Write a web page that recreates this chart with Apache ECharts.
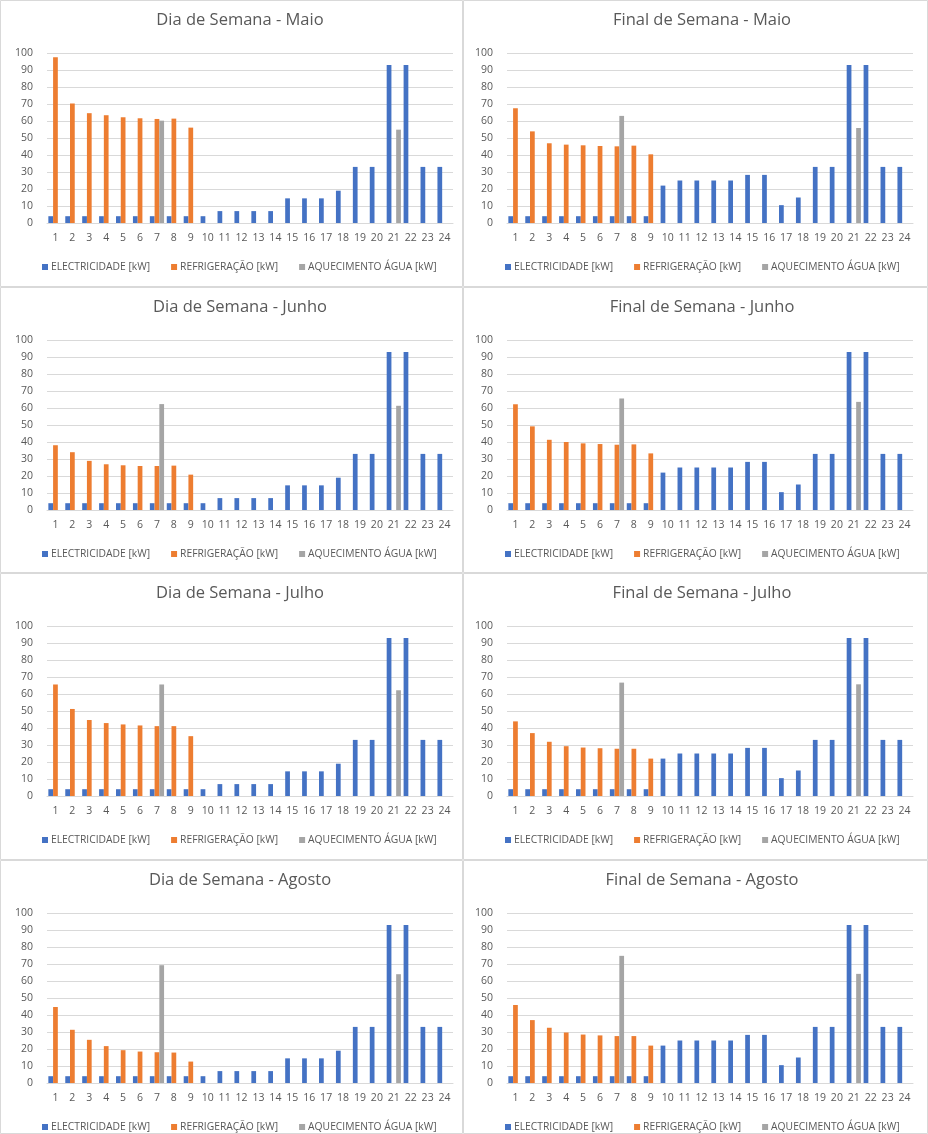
<!DOCTYPE html>
<html><head><meta charset="utf-8">
<script src="https://cdn.jsdelivr.net/npm/echarts@6/dist/echarts.min.js"></script>
<style>html,body{margin:0;padding:0;background:#fff}#c{width:928px;height:1134px}</style>
</head><body><div id="c"></div>
<script>
const hours = ['1','2','3','4','5','6','7','8','9','10','11','12','13','14','15','16','17','18','19','20','21','22','23','24'];
const seriesNames = ['ELECTRICIDADE [kW]', 'REFRIGERAÇÃO [kW]', 'AQUECIMENTO ÁGUA [kW]'];
const yTicks = [0, 10, 20, 30, 40, 50, 60, 70, 80, 90, 100];
const panelTitles = [
  'Dia de Semana - Maio', 'Final de Semana - Maio',
  'Dia de Semana - Junho', 'Final de Semana - Junho',
  'Dia de Semana - Julho', 'Final de Semana - Julho',
  'Dia de Semana - Agosto', 'Final de Semana - Agosto'
];

const elecWeekday = [4,4,4,4,4,4,4,4,4,4,7,7,7,7,14.5,14.5,14.5,19,33,33,93,93,33,33];
const elecWeekend = [4,4,4,4,4,4,4,4,4,22,25,25,25,25,28.3,28.3,10.5,15,33,33,93,93,33,33];

const refrDiaMaio     = [97.5,70.3,64.6,63.4,62.2,61.6,61.2,61.4,56.1,0,0,0,0,0,0,0,0,0,0,0,0,0,0,0];
const refrFimMaio     = [67.5,53.9,46.9,46.1,45.7,45.3,45.1,45.5,40.4,0,0,0,0,0,0,0,0,0,0,0,0,0,0,0];
const refrDiaJunho    = [38.1,34,28.9,26.9,26.3,25.9,25.9,26.1,20.8,0,0,0,0,0,0,0,0,0,0,0,0,0,0,0];
const refrFimJunho    = [62.2,49.2,41.3,40,39.2,38.8,38.4,38.6,33.3,0,0,0,0,0,0,0,0,0,0,0,0,0,0,0];
const refrDiaJulho    = [65.6,51.2,44.7,42.9,42.1,41.5,41.1,41.1,35.2,0,0,0,0,0,0,0,0,0,0,0,0,0,0,0];
const refrFimJulho    = [43.9,37,31.9,29.3,28.5,28.1,27.8,27.8,22,0,0,0,0,0,0,0,0,0,0,0,0,0,0,0];
const refrDiaAgosto   = [44.7,31.3,25.4,21.7,19.3,18.5,18.1,17.9,12.6,0,0,0,0,0,0,0,0,0,0,0,0,0,0,0];
const refrFimAgosto   = [45.9,37,32.5,29.7,28.5,28,27.6,27.6,22,0,0,0,0,0,0,0,0,0,0,0,0,0,0,0];

const aquecDiaMaio    = [0,0,0,0,0,0,60.2,0,0,0,0,0,0,0,0,0,0,0,0,0,54.9,0,0,0];
const aquecFimMaio    = [0,0,0,0,0,0,63,0,0,0,0,0,0,0,0,0,0,0,0,0,55.9,0,0,0];
const aquecDiaJunho   = [0,0,0,0,0,0,62.3,0,0,0,0,0,0,0,0,0,0,0,0,0,61.3,0,0,0];
const aquecFimJunho   = [0,0,0,0,0,0,65.6,0,0,0,0,0,0,0,0,0,0,0,0,0,63.6,0,0,0];
const aquecDiaJulho   = [0,0,0,0,0,0,65.6,0,0,0,0,0,0,0,0,0,0,0,0,0,62.2,0,0,0];
const aquecFimJulho   = [0,0,0,0,0,0,66.7,0,0,0,0,0,0,0,0,0,0,0,0,0,65.7,0,0,0];
const aquecDiaAgosto  = [0,0,0,0,0,0,69.3,0,0,0,0,0,0,0,0,0,0,0,0,0,64,0,0,0];
const aquecFimAgosto  = [0,0,0,0,0,0,74.8,0,0,0,0,0,0,0,0,0,0,0,0,0,64.2,0,0,0];

const panelData = [
  [elecWeekday, refrDiaMaio, aquecDiaMaio],
  [elecWeekend, refrFimMaio, aquecFimMaio],
  [elecWeekday, refrDiaJunho, aquecDiaJunho],
  [elecWeekend, refrFimJunho, aquecFimJunho],
  [elecWeekday, refrDiaJulho, aquecDiaJulho],
  [elecWeekend, refrFimJulho, aquecFimJulho],
  [elecWeekday, refrDiaAgosto, aquecDiaAgosto],
  [elecWeekend, refrFimAgosto, aquecFimAgosto]
];

const colors = ['#4472C4', '#ED7D31', '#A5A5A5'];
const textColor = '#595959';
const gridColor = '#D9D9D9';
const FONT = '"Open Sans", "Noto Sans", sans-serif';

const rowTops = [0, 287, 573, 860];
const colLefts = [0, 463];

const option = {
  animation: false,
  backgroundColor: '#ffffff',
  color: colors,
  textStyle: { fontFamily: FONT },
  title: [], grid: [], xAxis: [], yAxis: [], legend: [], series: [],
  graphic: []
};

panelData.forEach((sets, i) => {
  const row = Math.floor(i / 2), col = i % 2;
  const top = rowTops[row];
  const x0 = colLefts[col];
  option.title.push({
    text: panelTitles[i],
    left: x0 + (col === 0 ? 240 : 239),
    top: top + 12,
    textAlign: 'center',
    padding: 0,
    textStyle: { fontFamily: FONT, fontSize: 16.5, fontWeight: 'normal', color: textColor }
  });
  option.grid.push({ left: x0 + (col === 0 ? 47 : 44), top: top + 53, width: 406, height: 170, containLabel: false });
  option.xAxis.push({
    type: 'category', gridIndex: i, data: hours,
    axisLine: { lineStyle: { color: gridColor } },
    axisTick: { show: false },
    axisLabel: { interval: 0, fontSize: 10.5, color: textColor, margin: 10, fontFamily: FONT }
  });
  option.yAxis.push({
    type: 'value', gridIndex: i, min: yTicks[0], max: yTicks[yTicks.length - 1], interval: yTicks[1] - yTicks[0],
    axisLine: { show: false }, axisTick: { show: false },
    splitLine: { lineStyle: { color: gridColor } },
    axisLabel: { fontSize: 10.5, color: textColor, margin: 14, fontFamily: FONT }
  });
  option.legend.push({
    data: seriesNames,
    left: x0 + 42, top: top + 262,
    padding: 0, itemGap: 21, itemWidth: 6, itemHeight: 6, icon: 'rect',
    selectedMode: false,
    textStyle: { fontSize: 10.3, color: textColor, fontFamily: FONT, padding: [0, 0, 0, -2] }
  });
  sets.forEach((vals, s) => {
    option.series.push({
      type: 'bar', name: seriesNames[s], xAxisIndex: i, yAxisIndex: i,
      data: vals, barGap: '0%', barCategoryGap: '16%',
      itemStyle: { color: colors[s] }
    });
  });
  const h = row === 3 ? 1134 - top : (rowTops[row + 1] - top);
  option.graphic.push({
    type: 'rect', silent: true,
    shape: { x: x0 + 0.5, y: top + 0.5, width: (col === 0 ? 462 : 464), height: h - 1 },
    style: { fill: 'none', stroke: gridColor, lineWidth: 1 }
  });
});

const chart = echarts.init(document.getElementById('c'), null, { renderer: 'canvas' });
chart.setOption(option);
</script>
</body></html>
